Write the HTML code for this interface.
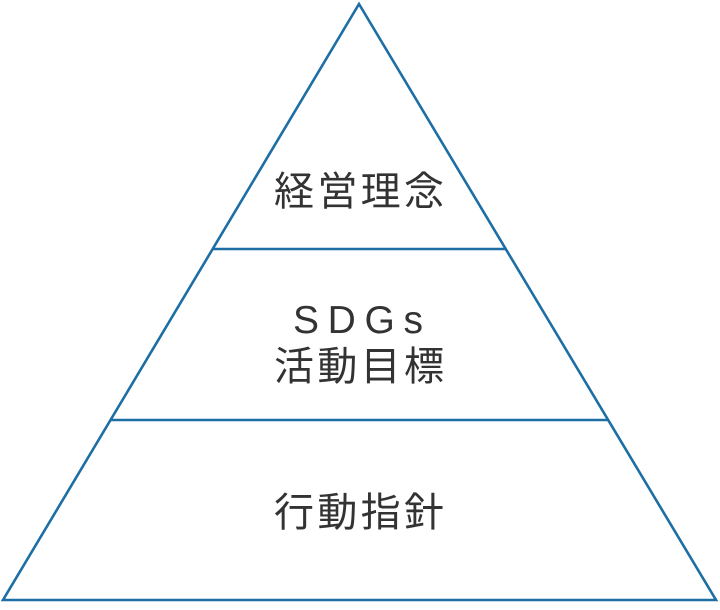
<!DOCTYPE html>
<html><head><meta charset="utf-8"><style>html,body{margin:0;padding:0;background:#fff;}svg{display:block}</style></head>
<body>
<svg width="720" height="610" xmlns="http://www.w3.org/2000/svg">
<g stroke="#1c6ea4" stroke-width="2.6" fill="none">
<polygon points="359,4 716,600 3,600"/>
<line x1="212" y1="249" x2="506" y2="249"/>
<line x1="110" y1="420" x2="608" y2="420"/>
</g>
<g fill="#333" font-family="'Liberation Sans','Noto Sans CJK JP',sans-serif" font-size="40" text-anchor="middle">
<text x="359" y="205" textLength="170" lengthAdjust="spacing">経営理念</text>
<text x="358" y="333" font-size="39" textLength="130" lengthAdjust="spacing">SDGs</text>
<text x="359" y="380" textLength="170" lengthAdjust="spacing">活動目標</text>
<text x="359" y="526" textLength="170" lengthAdjust="spacing">行動指針</text>
</g>
</svg>
</body></html>
